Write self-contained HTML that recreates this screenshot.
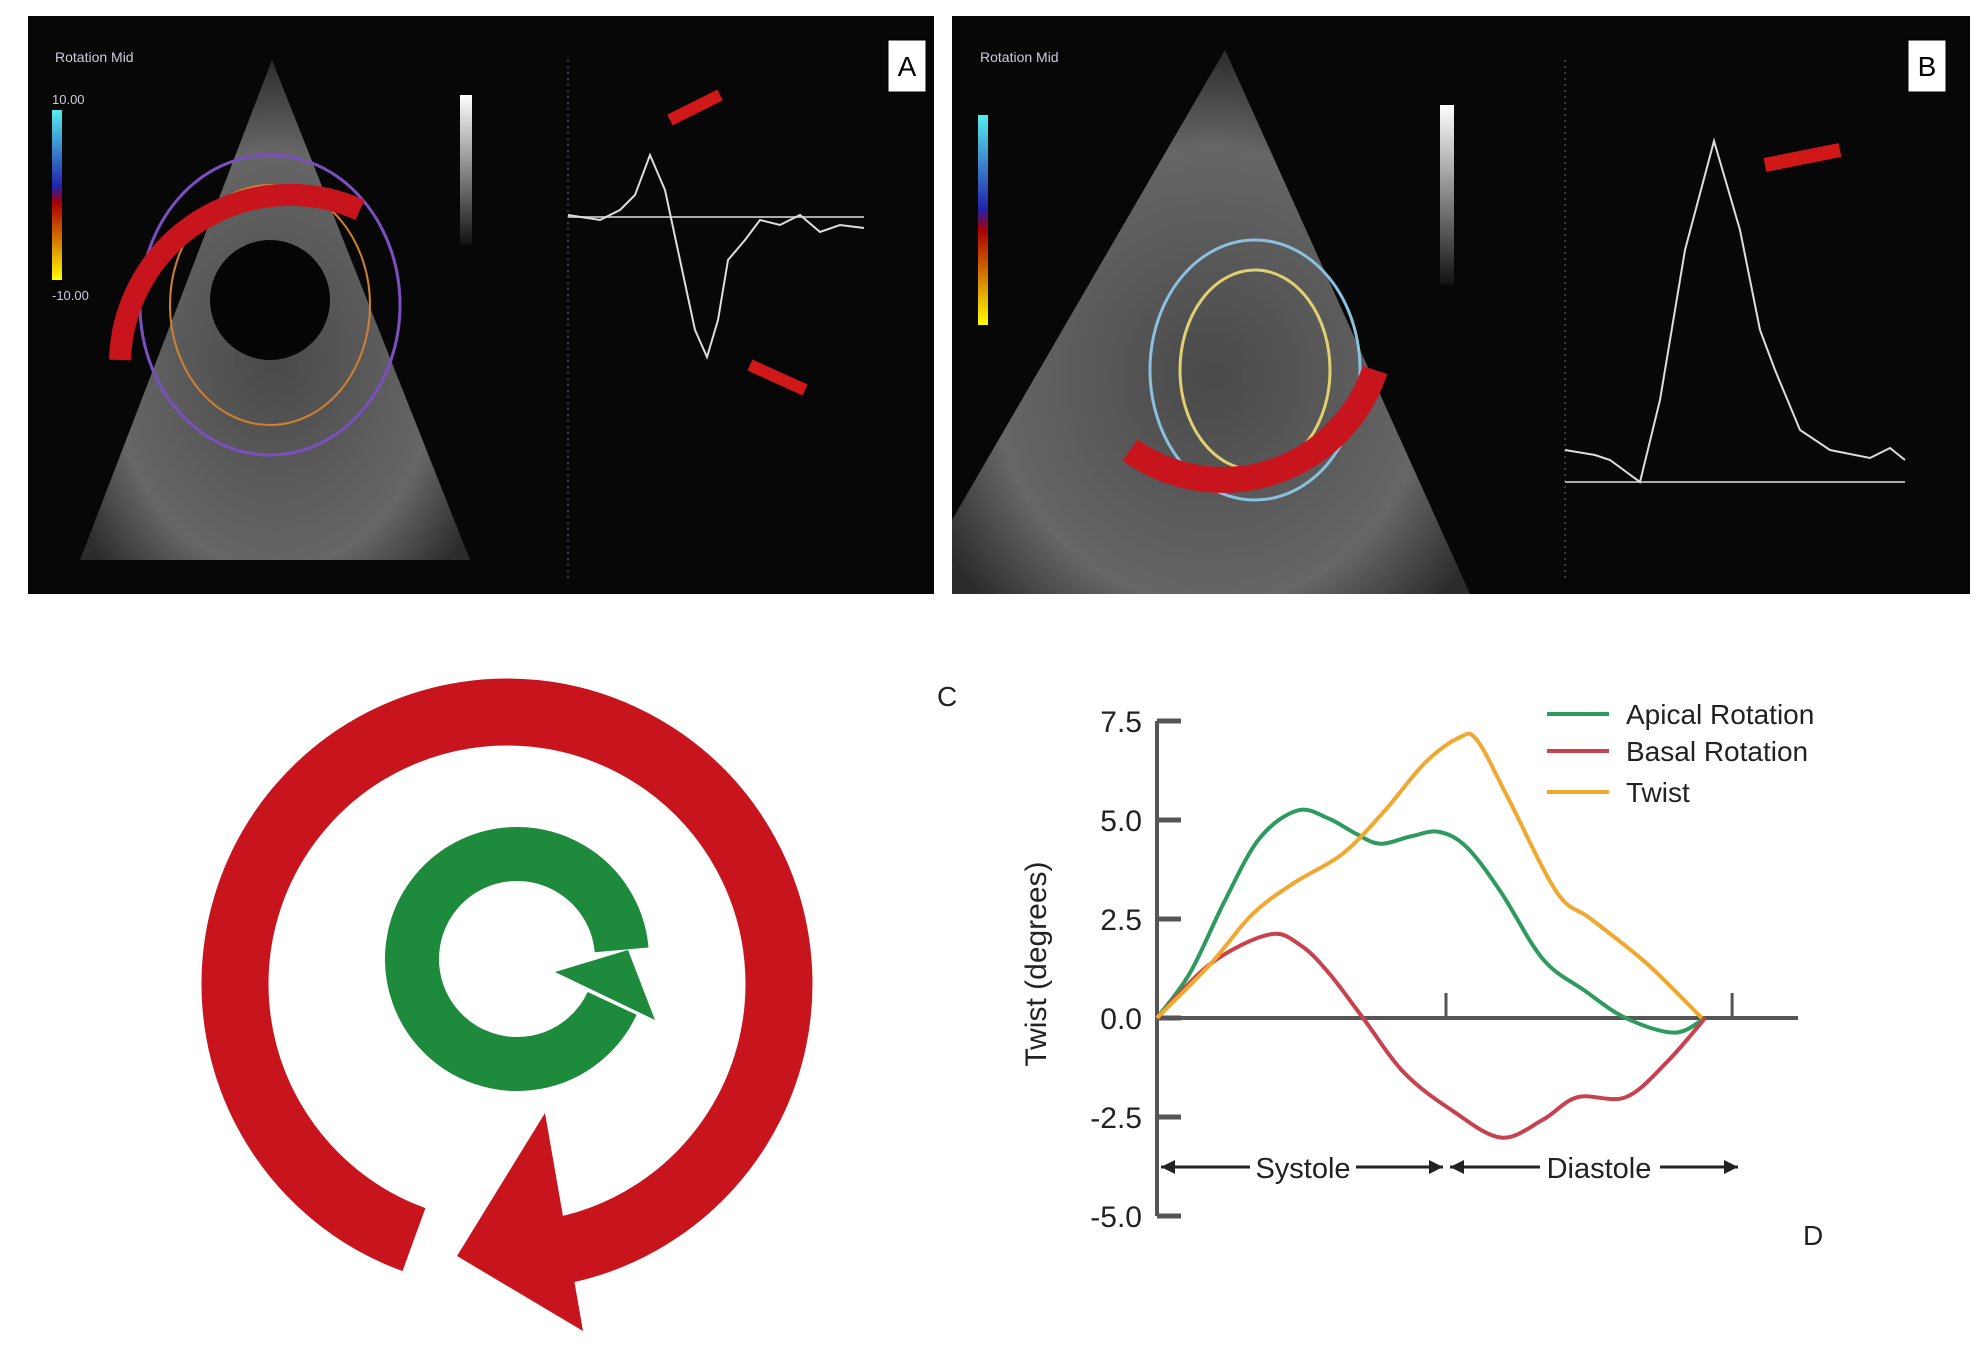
<!DOCTYPE html>
<html><head><meta charset="utf-8">
<style>
html,body{margin:0;padding:0;background:#fff;}
body{width:1979px;height:1358px;position:relative;overflow:hidden;font-family:"Liberation Sans",sans-serif;}
svg{position:absolute;left:0;top:0;}
</style></head>
<body>
<svg width="1979" height="1358" viewBox="0 0 1979 1358">
<defs>
<radialGradient id="echo" cx="0.5" cy="0.6" r="0.6">
<stop offset="0" stop-color="#555"/><stop offset="0.7" stop-color="#777"/><stop offset="1" stop-color="#333"/>
</radialGradient>
<linearGradient id="cb1" x1="0" y1="0" x2="0" y2="1"><stop offset="0" stop-color="#5ee"/><stop offset="0.45" stop-color="#22a"/><stop offset="0.55" stop-color="#a00"/><stop offset="1" stop-color="#ff0"/></linearGradient>
<linearGradient id="gs" x1="0" y1="0" x2="0" y2="1"><stop offset="0" stop-color="#fff"/><stop offset="1" stop-color="#111"/></linearGradient>
</defs>
<g>
<rect x="28" y="16" width="906" height="578" fill="#070707"/>
<path d="M272 60 L470 560 L80 560 Z" fill="url(#echo)" opacity="0.85"/>
<circle cx="270" cy="300" r="60" fill="#050505"/>
<ellipse cx="270" cy="305" rx="130" ry="150" fill="none" stroke="#7a4fc0" stroke-width="3"/>
<ellipse cx="270" cy="305" rx="100" ry="120" fill="none" stroke="#d08030" stroke-width="2"/>
<path d="M120 360 A170 170 0 0 1 360 210" fill="none" stroke="#c8141c" stroke-width="22"/>
<rect x="52" y="110" width="10" height="170" fill="url(#cb1)"/>
<rect x="460" y="95" width="12" height="150" fill="url(#gs)"/>
<text x="55" y="62" fill="#ccd" font-size="14">Rotation Mid</text>
<text x="52" y="104" fill="#ccd" font-size="13">10.00</text>
<text x="52" y="300" fill="#ccd" font-size="13">-10.00</text>
<line x1="568" y1="60" x2="568" y2="580" stroke="#668" stroke-width="1" stroke-dasharray="2 4"/>
<line x1="568" y1="217" x2="864" y2="217" stroke="#aaa" stroke-width="2"/>
<path d="M568 215 L600 220 L620 210 L635 195 L650 155 L665 190 L680 260 L695 330 L707 357 L718 320 L728 260 L745 240 L760 220 L780 225 L800 215 L820 232 L840 225 L864 228" fill="none" stroke="#ddd" stroke-width="2"/>
<path d="M670 120 L720 95" stroke="#d01818" stroke-width="12"/>
<path d="M750 365 L805 390" stroke="#d01818" stroke-width="12"/>
<rect x="888" y="40" width="38" height="52" fill="#fff" stroke="#000"/>
<text x="907" y="76" fill="#000" font-size="28" text-anchor="middle">A</text>
</g>
<g>
<rect x="952" y="16" width="1018" height="578" fill="#070707"/>
<path d="M1225 50 L1470 594 L952 594 L952 520 Z" fill="url(#echo)" opacity="0.85"/>
<ellipse cx="1255" cy="370" rx="105" ry="130" fill="none" stroke="#8ac0e0" stroke-width="3"/>
<ellipse cx="1255" cy="370" rx="75" ry="100" fill="none" stroke="#e0d070" stroke-width="3"/>
<path d="M1130 450 A160 160 0 0 0 1375 370" fill="none" stroke="#c8141c" stroke-width="26"/>
<rect x="978" y="115" width="10" height="210" fill="url(#cb1)"/>
<rect x="1440" y="105" width="14" height="180" fill="url(#gs)"/>
<text x="980" y="62" fill="#ccd" font-size="14">Rotation Mid</text>
<line x1="1565" y1="60" x2="1565" y2="580" stroke="#668" stroke-width="1" stroke-dasharray="2 4"/>
<line x1="1565" y1="482" x2="1905" y2="482" stroke="#aaa" stroke-width="2"/>
<path d="M1565 450 L1595 455 L1610 460 L1640 482 L1660 400 L1685 250 L1714 141 L1740 230 L1760 330 L1775 370 L1800 430 L1830 450 L1870 458 L1890 448 L1905 460" fill="none" stroke="#ddd" stroke-width="2"/>
<path d="M1765 165 L1840 150" stroke="#d01818" stroke-width="14"/>
<rect x="1908" y="40" width="38" height="52" fill="#fff" stroke="#000"/>
<text x="1927" y="76" fill="#000" font-size="28" text-anchor="middle">B</text>
</g>
<g>
<path id="redring" fill="none" stroke="#c8141c" stroke-width="67"/>
<polygon points="457,1256 545,1113 583,1331" fill="#c8141c"/>
<path id="greenring" fill="none" stroke="#1e8a3c" stroke-width="54"/>
<polygon points="555,972 655,1020 628,950" fill="#1e8a3c"/>
</g>
<g id="chart"></g>
</svg>
<script>
const yTicks = [7.5, 5.0, 2.5, 0.0, -2.5, -5.0];
const yTickLabels = ["7.5", "5.0", "2.5", "0.0", "-2.5", "-5.0"];
const xPhaseTicks = [1.0, 1.99];
const apicalT = [0, 0.115, 0.234, 0.354, 0.486, 0.593, 0.689, 0.773, 0.88, 0.976, 1.072, 1.19, 1.335, 1.478, 1.622, 1.79, 1.897];
const apicalV = [0, 1.15, 2.95, 4.53, 5.24, 5.04, 4.65, 4.4, 4.59, 4.7, 4.31, 3.18, 1.49, 0.7, 0, -0.37, 0];
const basalT = [0, 0.187, 0.39, 0.498, 0.593, 0.713, 0.856, 1.024, 1.191, 1.335, 1.455, 1.622, 1.766, 1.897];
const basalV = [0, 1.38, 2.11, 1.83, 1.15, 0, -1.39, -2.35, -3.02, -2.57, -2.0, -2.0, -1.1, 0];
const twistT = [0, 0.187, 0.33, 0.474, 0.641, 0.785, 0.928, 1.048, 1.108, 1.215, 1.383, 1.502, 1.694, 1.885];
const twistV = [0, 1.38, 2.62, 3.41, 4.14, 5.21, 6.45, 7.09, 7.01, 5.55, 3.18, 2.5, 1.38, 0];
const seriesNames = ["Apical Rotation", "Basal Rotation", "Twist"];

const NS = "http://www.w3.org/2000/svg";
const X0 = 1157, XU = 289, Y0 = 1018, YU = 39.6;
const xs = t => X0 + t * XU;
const ys = v => Y0 - v * YU;
const g = document.getElementById('chart');
function mk(tag, attrs, parent) {
  const e = document.createElementNS(NS, tag);
  for (const k in attrs) e.setAttribute(k, attrs[k]);
  (parent || g).appendChild(e);
  return e;
}
function txt(x, y, s, size, anchor, parent) {
  const e = mk('text', {x: x, y: y, 'font-size': size, 'text-anchor': anchor || 'start', fill: '#222', 'font-family': 'Liberation Sans, sans-serif'}, parent);
  e.textContent = s;
  return e;
}
function arcPath(cx, cy, r, a1, a2, sweep, large) {
  const p1 = [cx + r * Math.cos(a1 * Math.PI / 180), cy + r * Math.sin(a1 * Math.PI / 180)];
  const p2 = [cx + r * Math.cos(a2 * Math.PI / 180), cy + r * Math.sin(a2 * Math.PI / 180)];
  return `M${p1[0]} ${p1[1]} A${r} ${r} 0 ${large} ${sweep} ${p2[0]} ${p2[1]}`;
}
document.getElementById('redring').setAttribute('d', arcPath(507, 984, 272, 110, 82, 1, 1));
document.getElementById('greenring').setAttribute('d', arcPath(517, 959, 105, 25, -5, 1, 1));

const axis = mk('line', {x1: X0, y1: ys(7.5), x2: X0, y2: ys(-5), stroke: '#555', 'stroke-width': 4});


const xaxis = mk('line', {x1: X0, y1: ys(0), x2: 1798, y2: ys(0), stroke: '#555', 'stroke-width': 4});


yTicks.forEach((v, i) => {
  const tk = mk('line', {x1: X0, y1: ys(v), x2: X0 + 24, y2: ys(v), stroke: '#555', 'stroke-width': 5});
  
  
  const lb = txt(1142, ys(v) + 11, yTickLabels[i], 30, 'end');
  
  
});
xPhaseTicks.forEach(t => {
  const tk = mk('line', {x1: xs(t), y1: ys(0), x2: xs(t), y2: ys(0) - 25, stroke: '#555', 'stroke-width': 3});
  
  
});
const yt = txt(0, 0, 'Twist (degrees)', 30, 'middle');
yt.setAttribute('transform', 'translate(1046 964) rotate(-90)');


const cl = txt(937, 706, 'C', 28, 'start');


const dl = txt(1803, 1245, 'D', 28, 'start');



function smooth(T, V) {
  const P = T.map((t, i) => [xs(t), ys(V[i])]);
  let d = `M${P[0][0]} ${P[0][1]}`;
  for (let i = 0; i < P.length - 1; i++) {
    const p0 = P[Math.max(0, i - 1)], p1 = P[i], p2 = P[i + 1], p3 = P[Math.min(P.length - 1, i + 2)];
    const c1 = [p1[0] + (p2[0] - p0[0]) / 6, p1[1] + (p2[1] - p0[1]) / 6];
    const c2 = [p2[0] - (p3[0] - p1[0]) / 6, p2[1] - (p3[1] - p1[1]) / 6];
    d += ` C${c1[0]} ${c1[1]} ${c2[0]} ${c2[1]} ${p2[0]} ${p2[1]}`;
  }
  return d;
}
const colors = ['#2e9a5e', '#c8424e', '#f0a830'];
const data = [[apicalT, apicalV], [basalT, basalV], [twistT, twistV]];
const names = ['apical-rotation-line', 'basal-rotation-line', 'twist-line'];
data.forEach((s, i) => {
  const p = mk('path', {d: smooth(s[0], s[1]), fill: 'none', stroke: colors[i], 'stroke-width': 4});
  
  
});
seriesNames.forEach((n, i) => {
  const y = 714 + i * 37 + (i === 2 ? 4 : 0);
  const l = mk('line', {x1: 1547, y1: y, x2: 1609, y2: y, stroke: colors[i], 'stroke-width': 4});
  
  
  const t = txt(1626, y + 10, n, 28, 'start');
  
  
});
const ay = 1167;
function harrow(x1, x2, dir) {
  mk('line', {x1: x1, y1: ay, x2: x2, y2: ay, stroke: '#222', 'stroke-width': 3});
  const tip = dir > 0 ? x2 : x1;
  mk('polygon', {points: `${tip},${ay} ${tip - dir * 14},${ay - 7} ${tip - dir * 14},${ay + 7}`, fill: '#222'});
}
harrow(1161, 1250, -1); harrow(1356, 1443, 1);
harrow(1450, 1540, -1); harrow(1660, 1738, 1);
const st = txt(1303, ay + 11, 'Systole', 29, 'middle');


const dt = txt(1599, ay + 11, 'Diastole', 29, 'middle');


</script>
</body></html>
